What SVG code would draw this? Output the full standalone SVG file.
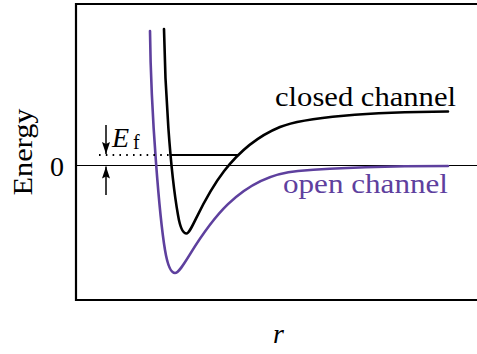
<svg xmlns="http://www.w3.org/2000/svg" width="477" height="354" viewBox="0 0 477 354">
<defs>
<style>
.lbl{font-size:28px}
.it{font-style:italic}
.purple{fill:#5e409e}
.curve{fill:none;stroke-width:2.6;stroke-linecap:round;stroke-linejoin:round}
</style>
<marker id="ah" viewBox="0 0 12 8" refX="12" refY="4" markerWidth="12" markerHeight="8" markerUnits="userSpaceOnUse" orient="auto">
<path d="M0,0 L12,4 L0,8 L2,4 Z" fill="#000"/>
</marker>
</defs>
<rect width="477" height="354" fill="#fff"/>
<g id="frame">
<path d="M477,4 H76 V300 H477" fill="none" stroke="#000" stroke-width="2.2"/>
</g>
<g id="zero-line">
<line x1="76" y1="165.5" x2="477" y2="165.5" stroke="#000" stroke-width="1.1"/>
</g>
<g font-family="'Liberation Serif','Times New Roman','DejaVu Serif',serif" fill="#000">
<g id="axis-labels">
<text class="lbl" font-size="28" transform="translate(32,152) rotate(-90)" text-anchor="middle" textLength="87" lengthAdjust="spacingAndGlyphs">Energy</text>
<text class="lbl" font-size="28" x="50" y="176">0</text>
<text class="lbl it" font-size="28" font-style="italic" x="273" y="343">r</text>
</g>
<g id="open-channel">
<path class="curve" stroke="#5e409e" d="M150,31 C151,120 160,220 165,250 C167,262 170,273 175,273 C187,273 215,178 298,171 C340,167.5 400,166 448,166"/>
<text class="lbl purple" font-size="28" fill="#5e409e" x="283" y="193" textLength="165" lengthAdjust="spacingAndGlyphs">open channel</text>
</g>
<g id="closed-channel">
<path class="curve" stroke="#000" d="M164,29 C165,90 170,170 178,215 C180,227 183,233.5 186.5,233.5 C194.5,233.5 212,155 280,127 C304,117 370,112 448,111.5"/>
<text class="lbl" font-size="28" x="275" y="106" textLength="181" lengthAdjust="spacingAndGlyphs">closed channel</text>
</g>
<g id="ef-label">
<text class="lbl it" font-size="28" font-style="italic" x="112" y="147">E</text>
<text font-size="20" x="133" y="149">f</text>
</g>
</g>
<g id="bound-state">
<line x1="170" y1="155" x2="238" y2="155" stroke="#000" stroke-width="1.8"/>
<line x1="99" y1="155" x2="170" y2="155" stroke="#000" stroke-width="1.8" stroke-dasharray="1.6 5.2"/>
</g>
<g id="connectors">
<line x1="106" y1="125" x2="106" y2="154" stroke="#000" stroke-width="1.5" marker-end="url(#ah)"/>
<line x1="106" y1="195" x2="106" y2="166.5" stroke="#000" stroke-width="1.5" marker-end="url(#ah)"/>
</g>
</svg>
